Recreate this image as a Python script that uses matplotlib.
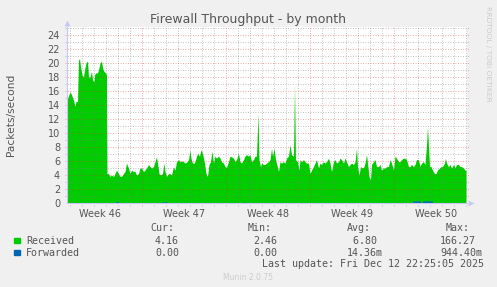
import matplotlib
matplotlib.use("Agg")
import matplotlib.pyplot as plt

# --- data (hours since left edge of the 33-day window) ---
recv_hours = [
    0, 1, 6, 9, 13, 16, 18, 21, 23, 25, 27, 30, 33, 35, 38, 41, 43, 46, 49, 51,
    54, 55, 58, 61, 63, 66, 69, 71, 74, 77, 79, 80, 83, 86, 89, 93, 96, 99, 103,
    106, 109, 113, 116, 119, 123, 126, 129, 133, 136, 139, 143, 146, 149, 153,
    156, 159, 163, 166, 169, 173, 176, 179, 181, 184, 187, 191, 194,
    196, 199, 203, 206, 209, 213, 216, 219, 223, 226, 229, 233, 236, 239, 243,
    246, 248, 251, 255, 258, 261, 265, 268, 271, 275, 278, 281, 284, 287, 290,
    293, 296, 299, 303, 306, 309, 313, 316, 319, 323, 326, 329, 333, 336, 339,
    343, 346, 349, 353, 356, 359, 363, 366, 369, 373, 376, 379, 382, 384, 387,
    389, 393, 396,
    399, 403, 406, 409, 411, 414, 417, 419, 423, 426, 429, 433, 436, 439, 443,
    446, 449, 453, 455, 457, 461, 464, 466, 469, 473, 476, 479, 483, 486, 489,
    493, 496, 499, 503, 506, 509, 513, 516, 519, 523, 526, 529, 533, 536, 539,
    543, 546, 549, 553, 556, 559, 563, 566, 569, 573, 576, 579, 581, 584, 587,
    591, 594,
    596, 599, 601, 604, 607, 609, 613, 616, 619, 623, 626, 629, 633, 636, 639,
    643, 646, 649, 653, 656, 659, 663, 666, 669, 673, 676, 679, 683, 686, 689,
    693, 696, 699, 703, 706, 709, 713, 716, 719, 721, 723, 725, 728, 731, 735,
    738, 741, 745, 748, 751, 755, 757, 759, 763, 766, 769, 773, 776, 779, 783,
    786, 789, 793, 796, 798,
]
recv_vals = [
    14.7, 14.9, 15.9, 15.5, 14.7, 13.8, 14.5, 14.5, 20.4, 20.6, 19.5, 18.3, 18.0,
    19.0, 20.0, 20.3, 18.0, 18.0, 18.8, 17.6, 17.3, 18.3, 18.6, 18.6, 19.0, 20.0,
    20.3, 19.3, 18.8, 18.6, 18.3, 4.2, 4.2, 3.8, 4.0, 3.8, 4.2, 4.7, 4.2, 3.8,
    3.8, 4.2, 4.5, 5.7, 5.0, 4.2, 4.7, 4.5, 4.5, 4.0, 4.2, 5.0, 5.0, 4.5, 4.7,
    5.0, 5.5, 5.2, 5.0, 5.2, 5.9, 6.6, 5.7, 4.2, 4.0, 4.2, 5.7,
    4.5, 3.8, 4.2, 4.2, 4.0, 5.2, 4.7, 5.9, 6.2, 5.9, 6.0, 5.9, 5.7, 5.8, 6.2,
    7.6, 6.4, 5.7, 5.7, 6.4, 7.1, 6.7, 7.6, 7.1, 5.7, 4.2, 3.8, 5.5, 5.9, 7.4,
    5.7, 6.7, 6.4, 6.7, 6.4, 5.9, 5.7, 5.2, 5.1, 5.9, 6.7, 6.6, 6.4, 5.9, 6.2,
    7.1, 5.9, 5.7, 6.2, 6.7, 6.9, 6.7, 6.9, 5.9, 6.2, 6.7, 6.7, 12.8, 6.2, 5.2,
    5.7, 5.5, 5.5,
    5.7, 5.9, 6.2, 7.8, 6.7, 7.8, 6.2, 5.7, 4.5, 5.9, 5.7, 5.9, 5.7, 6.4, 6.7,
    8.3, 6.9, 6.7, 16.9, 6.2, 5.9, 4.7, 6.2, 5.9, 6.2, 5.9, 5.7, 5.7, 4.2, 4.7,
    5.2, 5.7, 6.2, 5.0, 5.7, 5.5, 5.9, 5.7, 5.9, 6.4, 5.7, 4.5, 5.9, 6.2, 5.7,
    5.9, 6.4, 6.2, 5.7, 6.4, 5.9, 5.2, 5.5, 5.7, 5.5, 5.9, 7.8, 5.2, 4.0, 5.2,
    5.0, 5.2,
    5.7, 6.9, 5.7, 3.8, 3.3, 5.5, 5.9, 6.2, 5.2, 5.2, 5.5, 4.7, 5.0, 5.0, 5.2,
    5.2, 6.2, 5.7, 4.7, 6.7, 6.4, 5.9, 5.9, 6.2, 6.4, 6.4, 6.2, 5.2, 5.2, 5.5,
    5.2, 5.5, 6.2, 6.2, 5.2, 5.7, 5.9, 5.5, 8.3, 10.9, 8.1, 5.2, 5.2, 4.7, 4.2,
    4.2, 4.7, 5.0, 5.2, 5.2, 5.7, 6.4, 5.7, 5.2, 5.5, 5.0, 5.5, 5.0, 5.5, 5.5,
    5.2, 5.2, 5.0, 4.7, 4.7,
]
fwd_hours = [0, 96, 98, 102, 104, 188, 190, 200, 202, 350, 352, 358, 360,
             690, 692, 706, 708, 710, 712, 730, 732, 798]
fwd_vals = [0, 0, 0.2, 0.2, 0, 0, 0.15, 0.15, 0, 0, 0.12, 0.12, 0,
            0, 0.3, 0.3, 0, 0, 0.3, 0.3, 0, 0]

week_labels = ["Week 46", "Week 47", "Week 48", "Week 49", "Week 50"]
week_starts = [150.6, 318.6, 486.6, 654.6]
y_ticks = list(range(0, 25, 2))

legend_names = ["Received", "Forwarded"]
legend_colors = ["#00cc00", "#0066b3"]
cur_vals = ["4.16", "0.00"]
min_vals = ["2.46", "0.00"]
avg_vals = [" 6.80", "14.36m"]
max_vals = ["166.27", "944.40m"]

W, H = 497, 287
TXT = "#555555"
fig = plt.figure(figsize=(W / 100, H / 100), dpi=100, facecolor="#f0f0f0")
ax = fig.add_axes([67 / W, (H - 203) / H, 400 / W, 25.2 * 7 / H])
ax.set_facecolor("white")
ax.set_xlim(0, 800)
ax.set_ylim(0, 25.2)

ax.fill_between(recv_hours, recv_vals, color=legend_colors[0], lw=0, zorder=2)
ax.fill_between(fwd_hours, fwd_vals, color=legend_colors[1], lw=0, zorder=3)

# grid (rrdtool style: dotted, drawn over the data)
minor_c = (0.5, 0.5, 0.5, 0.45)
major_c = (0.85, 0.2, 0.2, 0.4)
dots = (0, (1, 1.5))
for v in range(1, 26):
    c = major_c if v % 2 == 0 else minor_c
    ax.hlines(v, -4, 804, colors=[c], lw=0.72, linestyles=[dots], clip_on=False, zorder=4)
h = week_starts[0] - 24 * 6
while h < 800:
    c = major_c if any(abs(h - w) < 1 for w in week_starts) else minor_c
    ax.vlines(h, -0.45, 25.2, colors=[c], lw=0.72, linestyles=[dots], clip_on=False, zorder=4)
    h += 24

for s in ["top", "right"]:
    ax.spines[s].set_visible(False)
for s in ["left", "bottom"]:
    ax.spines[s].set_color("#c8c8f8")
    ax.spines[s].set_linewidth(0.8)
    ax.spines[s].set_zorder(5)
ax.plot([0], [25.2 + 0.5], marker="^", ms=4, color="#c8c8f8", mec="none", clip_on=False)
ax.plot([808], [0], marker=">", ms=4, color="#c8c8f8", mec="none", clip_on=False)

ax.set_yticks(y_ticks)
ax.set_yticklabels([str(v) for v in y_ticks])
ax.tick_params(axis="y", length=0, pad=5, labelsize=7, labelcolor=TXT)
ax.set_xticks([w - 84 for w in week_starts] + [week_starts[-1] + 84])
ax.set_xticklabels(week_labels)
ax.tick_params(axis="x", length=0, pad=4, labelsize=7, labelcolor=TXT)

fig.text(248.5 / W, 1 - 19 / H, "Firewall Throughput - by month", ha="center", va="center",
         fontsize=9, color=TXT)
fig.text(10.7 / W, 1 - 115 / H, "Packets/second", rotation=90, ha="center", va="center",
         fontsize=7.7, color=TXT)
fig.text(488 / W, 1 - 53.5 / H, "RRDTOOL / TOBI OETIKER", rotation=270, ha="center",
         va="center", fontsize=5.4, color="#cccccc")

mono = dict(family="DejaVu Sans Mono", fontsize=7.2, color=TXT, va="baseline", ha="left")
for x, t in [(150, "Cur:"), (248, "Min:"), (347, "Avg:"), (446, "Max:")]:
    fig.text(x / W, 1 - 231 / H, t, **mono)
rows_y = [243.5, 255.5]
for i, y in enumerate(rows_y):
    fig.patches.append(plt.Rectangle((14 / W, 1 - (y - 0.5) / H), 5.5 / W, 5.5 / H,
                                     transform=fig.transFigure, color=legend_colors[i]))
    fig.text(26 / W, 1 - y / H, legend_names[i], **mono)
    fig.text(155 / W, 1 - y / H, cur_vals[i], **mono)
    fig.text(253 / W, 1 - y / H, min_vals[i], **mono)
    fig.text(347 / W, 1 - y / H, avg_vals[i], **mono)
    fig.text(440 / W, 1 - y / H, max_vals[i], **mono)
fig.text(262 / W, 1 - 267 / H, "Last update: Fri Dec 12 22:25:05 2025", **mono)
fig.text(248 / W, 1 - 277 / H, "Munin 2.0.75", ha="center", va="center", fontsize=5.5,
         color="#cccccc")

fig.savefig("out.png", dpi=100, facecolor=fig.get_facecolor())
